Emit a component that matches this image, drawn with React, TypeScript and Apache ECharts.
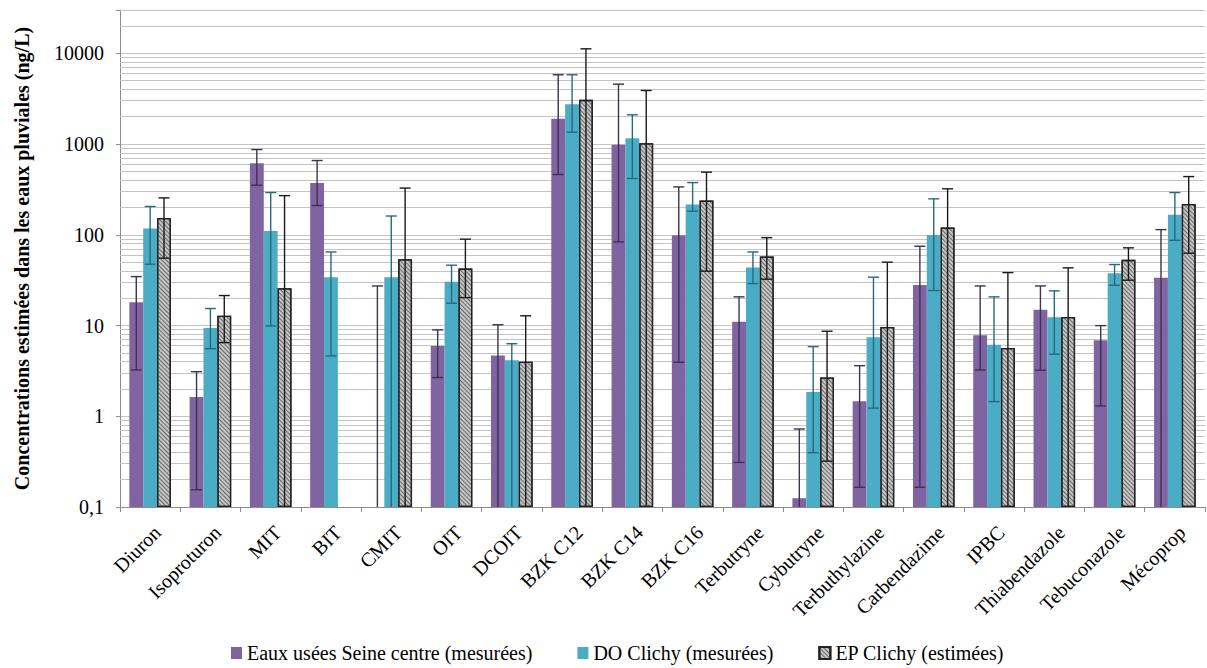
import React, { useEffect, useRef } from "react";
import * as echarts from "echarts";

const categories = [
  "Diuron", "Isoproturon", "MIT", "BIT", "CMIT", "OIT", "DCOIT", "BZK C12", "BZK C14",
  "BZK C16", "Terbutryne", "Cybutryne", "Terbuthylazine", "Carbendazime", "IPBC",
  "Thiabendazole", "Tebuconazole", "Mécoprop",
];

const seriesNames = [
  "Eaux usées Seine centre (mesurées)",
  "DO Clichy (mesurées)",
  "EP Clichy (estimées)",
];

// values (ng/L); null = no bar
const eauxUsees = [18, 1.63, 615, 373, null, 5.96, 4.66, 1900, 980, 99, 11, 0.125, 1.46, 28, 7.8, 14.9, 6.9, 33.7];
const eauxUseesLow = [3.24, 0.155, 352, 210, 0, 2.67, 0, 461, 83.5, 3.94, 0.31, 0, 0.165, 0.165, 3.24, 3.22, 1.3, 0];
const eauxUseesHigh = [34.6, 3.1, 869, 658, 27.3, 8.95, 10.2, 5800, 4570, 337, 20.7, 0.724, 3.61, 74.8, 27.3, 27.3, 9.97, 114];

const doClichy = [117, 9.4, 110, 34.1, 34.1, 30.3, 4.14, 2750, 1160, 215, 43.5, 1.85, 7.43, 99.7, 6.15, 12.3, 37.7, 166];
const doClichyLow = [47.4, 5.56, 9.9, 4.62, 0, 17.6, 0, 1352, 417, 182, 29, 0.397, 1.23, 24.3, 1.45, 4.83, 27.8, 87];
const doClichyHigh = [205, 15.4, 292, 64.7, 161, 46.2, 6.3, 5800, 2100, 376, 64.7, 5.85, 34.1, 249, 20.7, 24.1, 47, 292];

const epClichy = [153, 12.8, 25.8, null, 53.8, 42.4, 4.0, 3070, 1023, 238, 57.5, 2.67, 9.66, 120, 5.66, 12.4, 52.9, 219];
const epClichyLow = [55.2, 6.48, 0, null, 0, 20.3, 0, 0, 0, 39.7, 32.4, 0.32, 0, 0, 0, 0, 31.6, 62.7];
const epClichyHigh = [255, 21.4, 270, null, 327, 89.5, 12.8, 11200, 3890, 490, 93, 8.65, 49.9, 321, 38.3, 43.2, 71.8, 438];

const majorTicks = [0.1, 1, 10, 100, 1000, 10000];
const minorMultipliers = [2, 3, 4, 5, 6, 7, 8, 9];

const AXIS_MIN = 0.1;
const AXIS_MAX = 30000;
const CAT_GAP = 0.31;
const FONT = "Liberation Serif";

const barColors = ["#8064A2", "#4BACC6", "#c4c4c4"];
const errColors = ["#3f3151", "#256b7d", "#1a1a1a"];

export default function App() {
  const ref = useRef<HTMLDivElement>(null);

  useEffect(() => {
    if (!ref.current) return;
    const chart = echarts.init(ref.current, null, { renderer: "svg" });

    const minorLines: { yAxis: number }[] = [];
    majorTicks.forEach((m) => {
      minorMultipliers.forEach((k) => {
        const v = m * k;
        if (v <= AXIS_MAX) minorLines.push({ yAxis: v });
      });
    });

    const values = [eauxUsees, doClichy, epClichy];
    const lows = [eauxUseesLow, doClichyLow, epClichyLow];
    const highs = [eauxUseesHigh, doClichyHigh, epClichyHigh];

    const barSeries: any[] = values.map((vals, s) => ({
      name: seriesNames[s],
      type: "bar",
      data: vals,
      barGap: "0%",
      barCategoryGap: CAT_GAP * 100 + "%",
      z: 2,
      itemStyle:
        s === 2
          ? {
              color: barColors[s],
              borderColor: "#222",
              borderWidth: 1.3,
              decal: {
                symbol: "rect",
                color: "rgba(50,50,50,0.6)",
                dashArrayX: [1, 0],
                dashArrayY: [1, 1.5],
                rotation: Math.PI / 4,
              },
            }
          : { color: barColors[s] },
      ...(s === 0
        ? {
            markLine: {
              silent: true,
              symbol: "none",
              z: 1,
              label: { show: false },
              lineStyle: { color: "#c4c4c4", width: 1, type: "solid" },
              data: minorLines,
            },
          }
        : {}),
    }));

    const errSeries: any[] = values.map((vals, s) => {
      const data: any[] = [];
      vals.forEach((_, i) => {
        const hi = highs[s][i];
        const lo = lows[s][i];
        if (hi == null) return;
        data.push([i, lo && lo > 0 ? lo : AXIS_MIN, hi]);
      });
      return {
        type: "custom",
        name: seriesNames[s] + " err",
        z: 4,
        silent: true,
        encode: { x: 0, y: [1, 2] },
        data,
        renderItem: (params: any, api: any) => {
          const idx = api.value(0);
          const lo = api.value(1);
          const hi = api.value(2);
          const catW = api.size([1, 1])[0];
          const bw = (catW * (1 - CAT_GAP)) / 3;
          const center = api.coord([idx, hi]);
          const x = center[0] + (s - 1) * bw;
          const yTop = center[1];
          const yBot = api.coord([idx, lo])[1];
          const cap = 5.5;
          const style = { stroke: errColors[s], lineWidth: 1.4 };
          const children: any[] = [
            { type: "line", shape: { x1: x, y1: yTop, x2: x, y2: yBot }, style },
            { type: "line", shape: { x1: x - cap, y1: yTop, x2: x + cap, y2: yTop }, style },
          ];
          if (lo > AXIS_MIN) {
            children.push({ type: "line", shape: { x1: x - cap, y1: yBot, x2: x + cap, y2: yBot }, style });
          }
          return { type: "group", children };
        },
      };
    });

    chart.setOption({
      animation: false,
      backgroundColor: "#ffffff",
      textStyle: { fontFamily: FONT },
      grid: { left: 120, right: 2, top: 10, bottom: 161, containLabel: false, outerBoundsMode: "none" },
      legend: {
        data: seriesNames,
        left: 231,
        top: 643,
        padding: 0,
        itemWidth: 11,
        itemHeight: 12,
        itemGap: 45,
        icon: "rect",
        textStyle: { fontFamily: FONT, fontSize: 20, color: "#000" },
      },
      xAxis: {
        type: "category",
        data: categories,
        axisLine: { show: true, lineStyle: { color: "#8c8c8c", width: 1 } },
        axisTick: { show: true, length: 5, alignWithLabel: false, lineStyle: { color: "#8c8c8c" } },
        axisLabel: {
          interval: 0,
          rotate: 45,
          margin: 15,
          verticalAlign: "top",
          fontFamily: FONT,
          fontSize: 20,
          color: "#000",
        },
        splitLine: { show: false },
      },
      yAxis: {
        type: "log",
        logBase: 10,
        min: AXIS_MIN,
        max: AXIS_MAX,
        startValue: AXIS_MIN,
        name: "Concentrations estimées dans les eaux pluviales (ng/L)",
        nameLocation: "middle",
        nameRotate: 90,
        nameGap: 88,
        nameTextStyle: { fontFamily: FONT, fontSize: 20, fontWeight: "bold", color: "#000" },
        axisLine: { show: true, lineStyle: { color: "#8c8c8c", width: 1 } },
        axisTick: { show: true, length: 4, inside: false, lineStyle: { color: "#8c8c8c" } },
        splitLine: { show: true, lineStyle: { color: "#c4c4c4", width: 1 } },
        minorTick: { show: false },
        minorSplitLine: { show: false },
        axisLabel: {
          margin: 16,
          fontFamily: FONT,
          fontSize: 20,
          color: "#000",
          formatter: (v: number) => {
            const l = Math.log10(v);
            const r = Math.round(l);
            if (Math.abs(l - r) > 1e-6) return "";
            if (r < 0) return "0," + "0".repeat(-r - 1) + "1";
            return String(Math.pow(10, r));
          },
        },
      },
      series: [...barSeries, ...errSeries],
    });

    return () => chart.dispose();
  }, []);

  return (
    <div
      ref={ref}
      style={{ position: "absolute", left: 0, top: 0, width: 1207, height: 668 }}
    />
  );
}
